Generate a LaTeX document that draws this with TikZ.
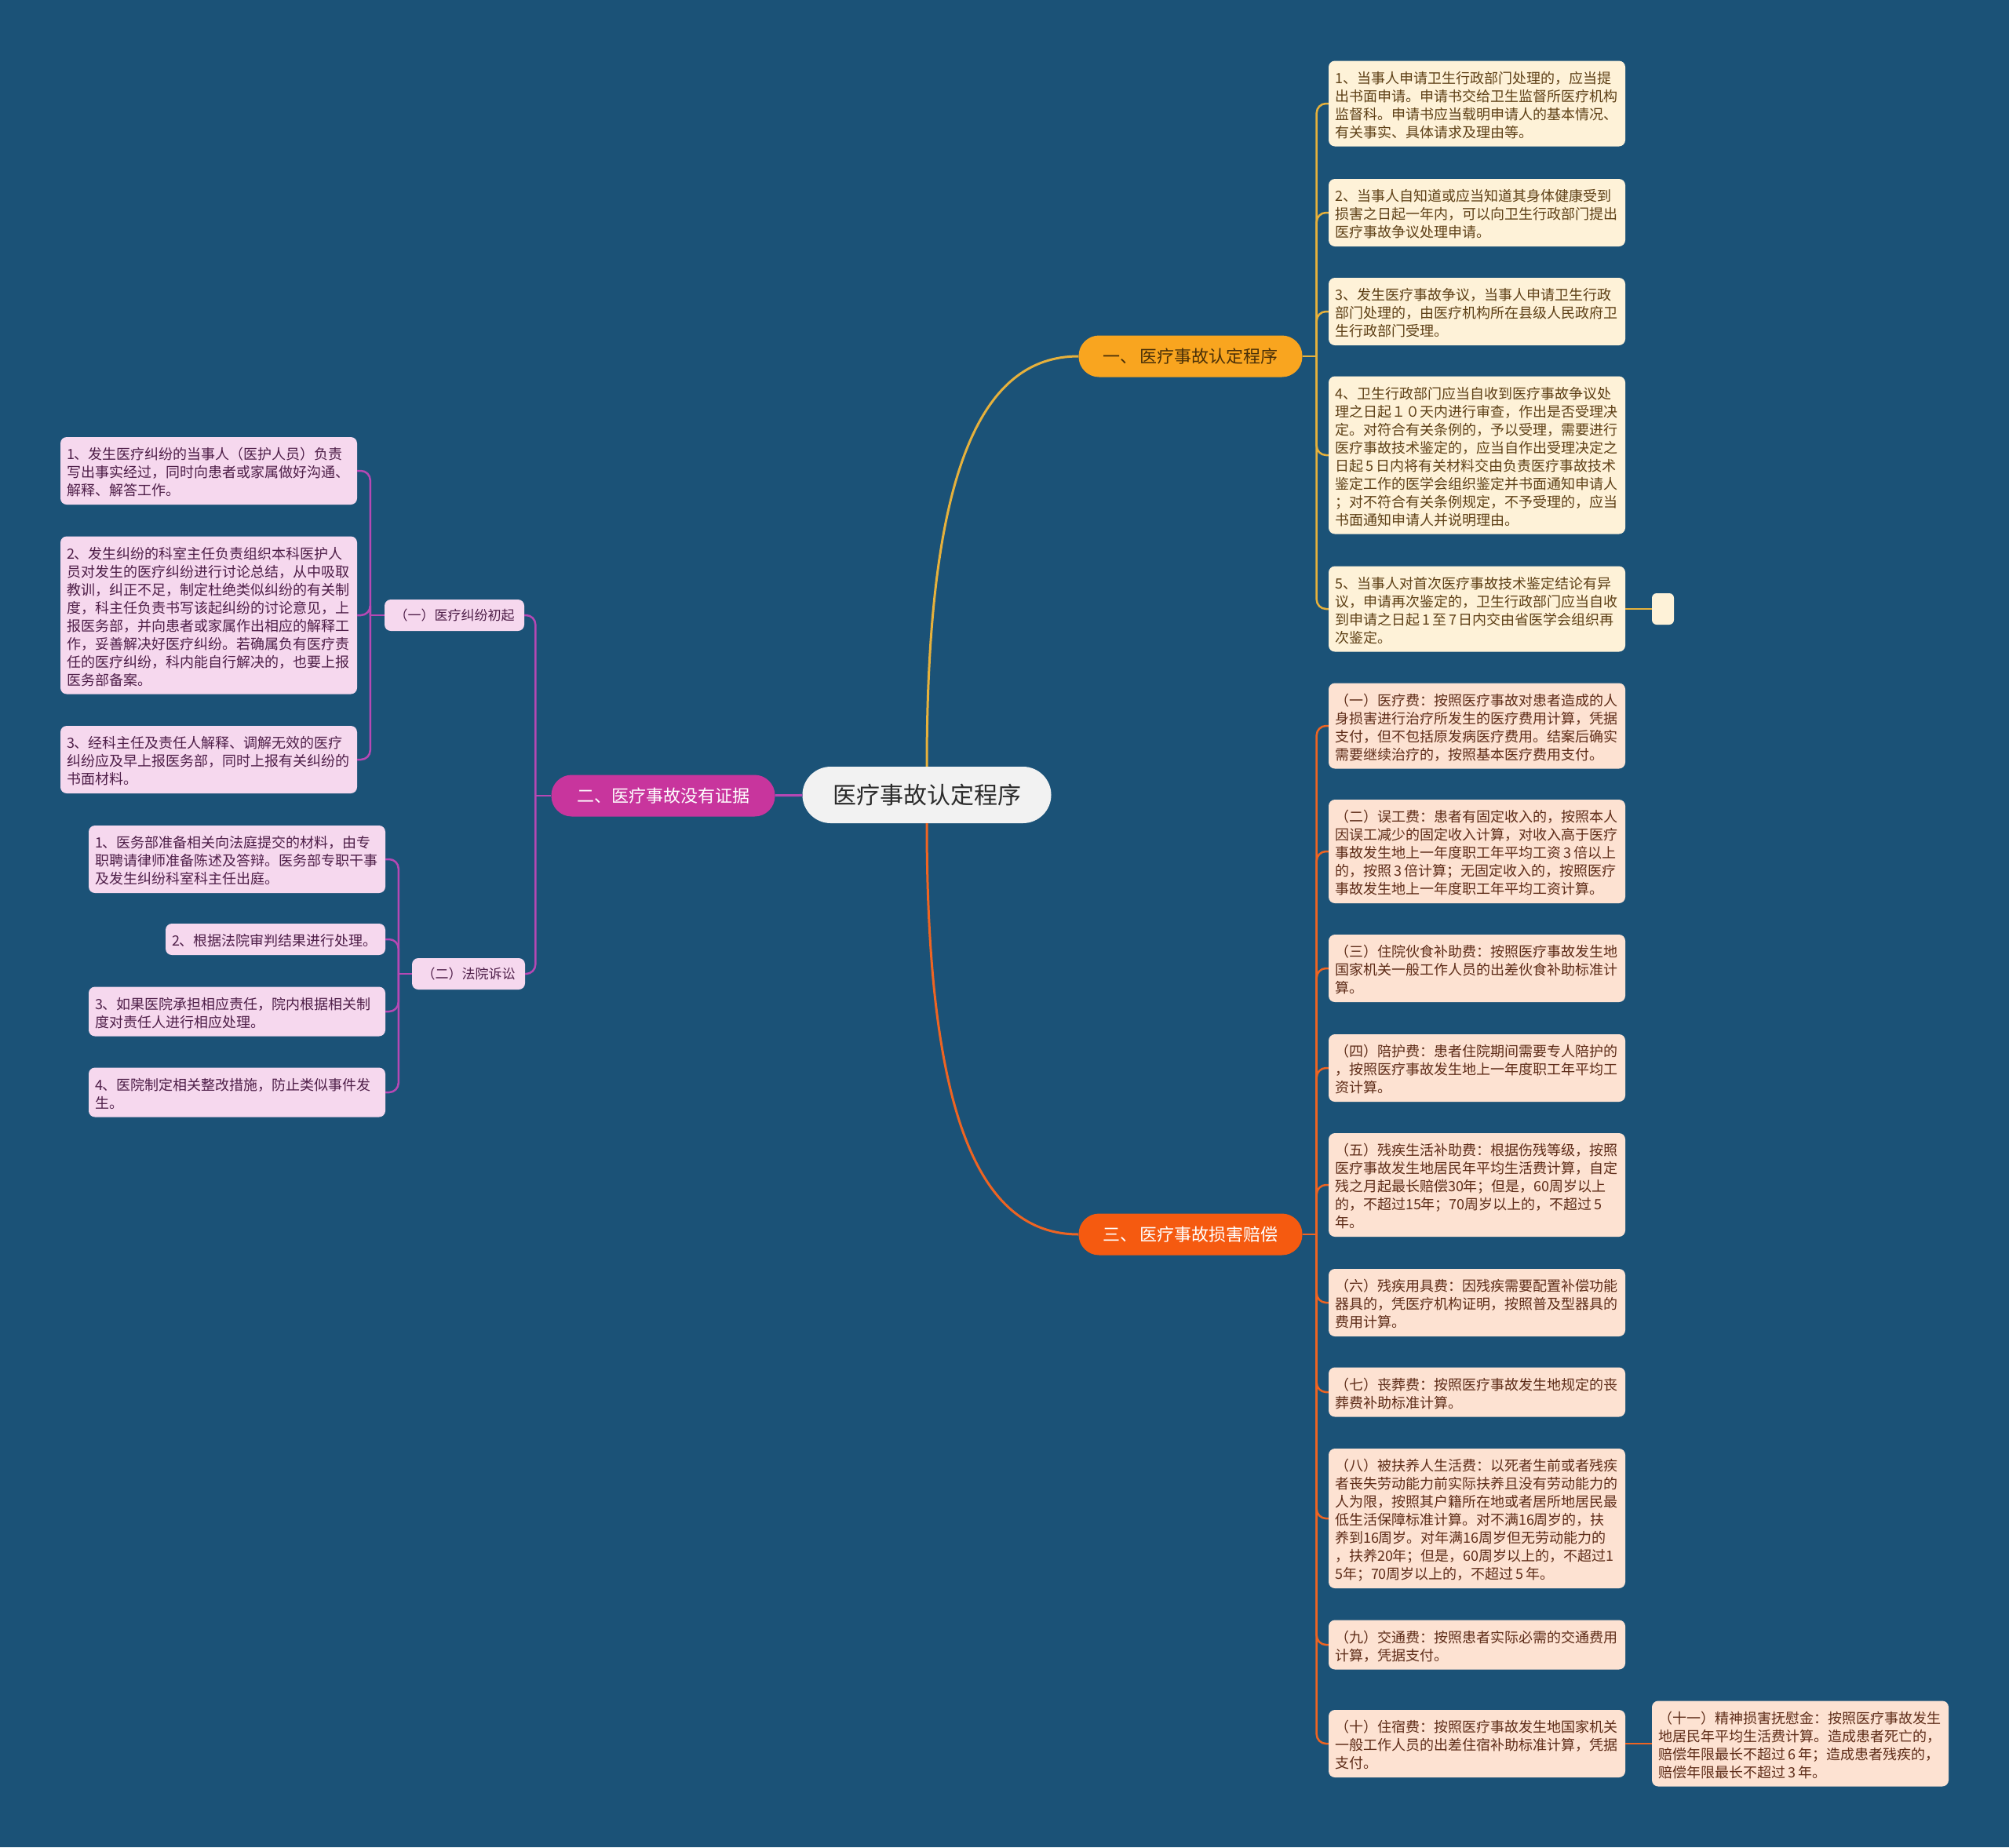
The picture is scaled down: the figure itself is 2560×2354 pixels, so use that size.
\documentclass[tikz,border=0pt]{standalone}
\usepackage{fontspec}
\setmainfont{Noto Sans CJK SC}
\usetikzlibrary{positioning}

\definecolor{bg}{HTML}{1B5277}
\definecolor{cfill}{HTML}{F2F2F2}
\definecolor{ctext}{HTML}{2B2B2B}
\definecolor{yfill}{HTML}{F9A51F}
\definecolor{ytext}{HTML}{4A3008}
\definecolor{ycol}{HTML}{E6B13C}
\definecolor{rfill}{HTML}{FEF2D8}
\definecolor{rtext}{HTML}{5E4016}
\definecolor{ofill}{HTML}{F55A10}
\definecolor{ocol}{HTML}{EE6422}
\definecolor{sfill}{HTML}{FDE2D2}
\definecolor{stext}{HTML}{5E2C18}
\definecolor{pfill}{HTML}{C8359D}
\definecolor{pcol}{HTML}{B648B4}
\definecolor{lfill}{HTML}{F6D8EE}
\definecolor{ltext}{HTML}{4E1E48}

\tikzset{
  box/.style={rounded corners=8pt, text width=362pt, inner xsep=8pt, inner ysep=8.5pt, align=left,
    font=\fontsize{18}{23}\selectfont,
    execute at begin node={\rule{0pt}{20pt}}, execute at end node={\rule[-3pt]{0pt}{3pt}}},
  rbox/.style={box, fill=rfill, text=rtext},
  sbox/.style={box, fill=sfill, text=stext},
  lbox/.style={box, fill=lfill, text=ltext},
  branch/.style={rounded corners=26pt, minimum width=285pt, minimum height=53pt, inner sep=0pt,
    font=\fontsize{22}{26}\selectfont},
  sub/.style={rounded corners=8pt, fill=lfill, text=ltext, inner xsep=12.5pt, inner ysep=0pt,
    minimum height=40pt, font=\fontsize{17}{20}\selectfont},
  yline/.style={draw=ycol, line width=2.5pt, rounded corners=12pt},
  oline/.style={draw=ocol, line width=2.5pt, rounded corners=12pt},
  pline/.style={draw=pcol, line width=2.5pt, rounded corners=12pt}
}

\begin{document}
\begin{tikzpicture}[x=1pt, y=-1pt]
\useasboundingbox (0,0) rectangle (2560,2354);
\fill[bg] (0,0) rectangle (2560,2354);

\node (c)[fill=cfill, text=ctext, rounded corners=36pt, minimum width=317pt, minimum height=72pt, inner sep=0pt, font=\fontsize{30}{34}\selectfont] at (1181,1013) {医疗事故认定程序};
\node (b1)[branch, fill=yfill, text=ytext] at (1517,454) {一、\,医疗事故认定程序};
\node (b2)[branch, fill=pfill, text=white] at (845,1014) {二、医疗事故没有证据};
\node (b3)[branch, fill=ofill, text=white] at (1517,1573) {三、\,医疗事故损害赔偿};

\node (r1)[rbox] at (1882,132) {1、当事人申请卫生行政部门处理的，应当提\\出书面申请。申请书交给卫生监督所医疗机构\\监督科。申请书应当载明申请人的基本情况、\\有关事实、具体请求及理由等。};
\node (r2)[rbox] at (1882,271) {2、当事人自知道或应当知道其身体健康受到\\损害之日起一年内，可以向卫生行政部门提出\\医疗事故争议处理申请。};
\node (r3)[rbox] at (1882,397) {3、发生医疗事故争议，当事人申请卫生行政\\部门处理的，由医疗机构所在县级人民政府卫\\生行政部门受理。};
\node (r4)[rbox] at (1882,580) {4、卫生行政部门应当自收到医疗事故争议处\\理之日起１０天内进行审查，作出是否受理决\\定。对符合有关条例的，予以受理，需要进行\\医疗事故技术鉴定的，应当自作出受理决定之\\日起\,5\,日内将有关材料交由负责医疗事故技术\\鉴定工作的医学会组织鉴定并书面通知申请人\\；对不符合有关条例规定，不予受理的，应当\\书面通知申请人并说明理由。};
\node (r5)[rbox] at (1882,776) {5、当事人对首次医疗事故技术鉴定结论有异\\议，申请再次鉴定的，卫生行政部门应当自收\\到申请之日起\,1\,至\,7\,日内交由省医学会组织再\\次鉴定。};
\node (e)[fill=rfill, rounded corners=6pt, minimum width=28pt, minimum height=40pt, inner sep=0pt] at (2119,776) {};

\node (s1)[sbox] at (1882,925) {（一）医疗费：按照医疗事故对患者造成的人\\身损害进行治疗所发生的医疗费用计算，凭据\\支付，但不包括原发病医疗费用。结案后确实\\需要继续治疗的，按照基本医疗费用支付。};
\node (s2)[sbox] at (1882,1085) {（二）误工费：患者有固定收入的，按照本人\\因误工减少的固定收入计算，对收入高于医疗\\事故发生地上一年度职工年平均工资\,3\,倍以上\\的，按照\,3\,倍计算；无固定收入的，按照医疗\\事故发生地上一年度职工年平均工资计算。};
\node (s3)[sbox] at (1882,1234) {（三）住院伙食补助费：按照医疗事故发生地\\国家机关一般工作人员的出差伙食补助标准计\\算。};
\node (s4)[sbox] at (1882,1361) {（四）陪护费：患者住院期间需要专人陪护的\\，按照医疗事故发生地上一年度职工年平均工\\资计算。};
\node (s5)[sbox] at (1882,1510) {（五）残疾生活补助费：根据伤残等级，按照\\医疗事故发生地居民年平均生活费计算，自定\\残之月起最长赔偿30年；但是，60周岁以上\\的，不超过15年；70周岁以上的，不超过\,5\\年。};
\node (s6)[sbox] at (1882,1660) {（六）残疾用具费：因残疾需要配置补偿功能\\器具的，凭医疗机构证明，按照普及型器具的\\费用计算。};
\node (s7)[sbox] at (1882,1774) {（七）丧葬费：按照医疗事故发生地规定的丧\\葬费补助标准计算。};
\node (s8)[sbox] at (1882,1935) {（八）被扶养人生活费：以死者生前或者残疾\\者丧失劳动能力前实际扶养且没有劳动能力的\\人为限，按照其户籍所在地或者居所地居民最\\低生活保障标准计算。对不满16周岁的，扶\\养到16周岁。对年满16周岁但无劳动能力的\\，扶养20年；但是，60周岁以上的，不超过1\\5年；70周岁以上的，不超过\,5\,年。};
\node (s9)[sbox] at (1882,2096) {（九）交通费：按照患者实际必需的交通费用\\计算，凭据支付。};
\node (s10)[sbox] at (1882,2222) {（十）住宿费：按照医疗事故发生地国家机关\\一般工作人员的出差住宿补助标准计算，凭据\\支付。};
\node (s11)[sbox] at (2294,2222) {（十一）精神损害抚慰金：按照医疗事故发生\\地居民年平均生活费计算。造成患者死亡的，\\赔偿年限最长不超过\,6\,年；造成患者残疾的，\\赔偿年限最长不超过\,3\,年。};

\node (a1)[sub] at (579,784) {（一）医疗纠纷初起};
\node (a2)[sub] at (597,1241) {（二）法院诉讼};

\node (l1)[lbox] at (266,600) {1、发生医疗纠纷的当事人（医护人员）负责\\写出事实经过，同时向患者或家属做好沟通、\\解释、解答工作。};
\node (l2)[lbox] at (266,784) {2、发生纠纷的科室主任负责组织本科医护人\\员对发生的医疗纠纷进行讨论总结，从中吸取\\教训，纠正不足，制定杜绝类似纠纷的有关制\\度，科主任负责书写该起纠纷的讨论意见，上\\报医务部，并向患者或家属作出相应的解释工\\作，妥善解决好医疗纠纷。若确属负有医疗责\\任的医疗纠纷，科内能自行解决的，也要上报\\医务部备案。};
\node (l3)[lbox] at (266,968) {3、经科主任及责任人解释、调解无效的医疗\\纠纷应及早上报医务部，同时上报有关纠纷的\\书面材料。};

\node (m1)[lbox] at (302,1095) {1、医务部准备相关向法庭提交的材料，由专\\职聘请律师准备陈述及答辩。医务部专职干事\\及发生纠纷科室科主任出庭。};
\node (m2)[lbox, text width=264pt] at (351,1197) {2、根据法院审判结果进行处理。};
\node (m3)[lbox] at (302,1289) {3、如果医院承担相应责任，院内根据相关制\\度对责任人进行相应处理。};
\node (m4)[lbox] at (302,1392) {4、医院制定相关整改措施，防止类似事件发\\生。};

\coordinate [right=18pt of b1] (rs);
\coordinate [right=18pt of b3] (ss);
\coordinate [left=20pt of b2] (as);
\coordinate [left=18pt of a1] (ls);
\coordinate [left=17pt of a2] (ms);

\draw[yline, line width=3pt] (c.north) .. controls (1181,600) and (1250,454) .. (b1.west);
\draw[oline, line width=3pt] (c.south) .. controls (1181,1427) and (1250,1573) .. (b3.west);
\draw[pline, line width=3pt] (c) -- (b2);

\draw[yline] (b1) -- (rs);
\draw[yline] (rs) |- (r1.west);
\draw[yline] (rs) |- (r2.west);
\draw[yline] (rs) |- (r3.west);
\draw[yline] (rs) |- (r4.west);
\draw[yline] (rs) |- (r5.west);
\draw[yline] (r5) -- (e);

\draw[oline] (b3) -- (ss);
\draw[oline] (ss) |- (s1.west);
\draw[oline] (ss) |- (s2.west);
\draw[oline] (ss) |- (s3.west);
\draw[oline] (ss) |- (s4.west);
\draw[oline] (ss) |- (s5.west);
\draw[oline] (ss) |- (s6.west);
\draw[oline] (ss) |- (s7.west);
\draw[oline] (ss) |- (s8.west);
\draw[oline] (ss) |- (s9.west);
\draw[oline] (ss) |- (s10.west);
\draw[oline] (s10) -- (s11);

\draw[pline] (b2) -- (as);
\draw[pline] (as) |- (a1.east);
\draw[pline] (as) |- (a2.east);

\draw[pline] (a1) -- (ls);
\draw[pline] (ls) |- (l1.east);
\draw[pline] (ls) |- (l2.east);
\draw[pline] (ls) |- (l3.east);

\draw[pline] (a2) -- (ms);
\draw[pline] (ms) |- (m1.east);
\draw[pline] (ms) |- (m2.east);
\draw[pline] (ms) |- (m3.east);
\draw[pline] (ms) |- (m4.east);
\end{tikzpicture}
\end{document}
